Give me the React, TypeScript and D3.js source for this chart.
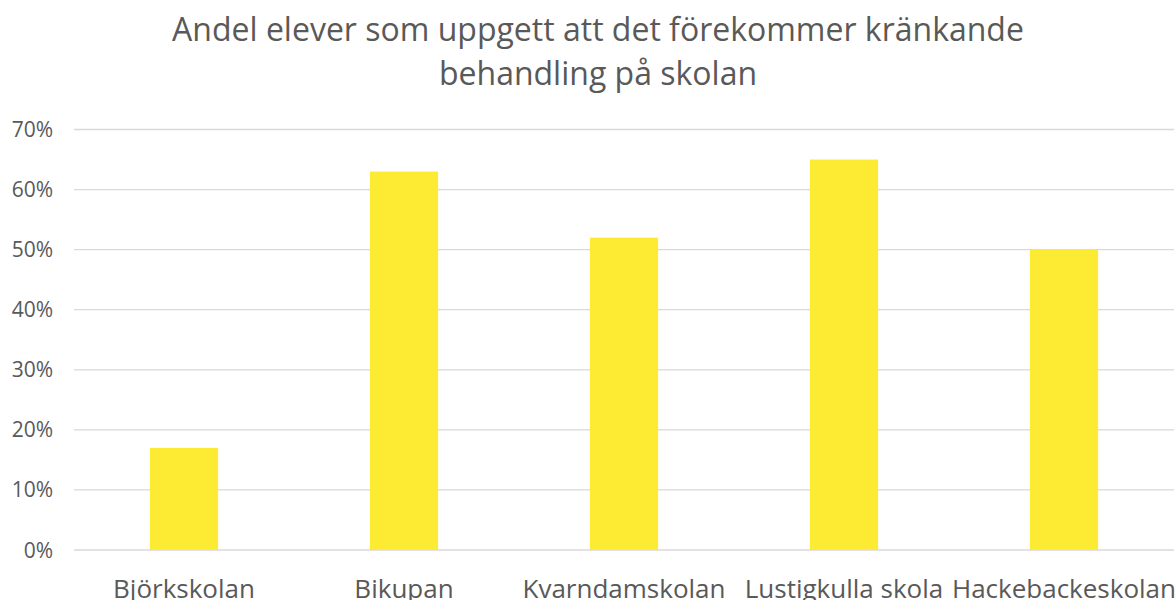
import React from 'react';
import * as d3 from 'd3';

const schools: string[] = ['Björkskolan', 'Bikupan', 'Kvarndamskolan', 'Lustigkulla skola', 'Hackebackeskolan'];
const shares: number[] = [0.17, 0.63, 0.52, 0.65, 0.5];
const yTicks: number[] = [0, 0.1, 0.2, 0.3, 0.4, 0.5, 0.6, 0.7];
const titleLines: string[] = ['Andel elever som uppgett att det förekommer kränkande', 'behandling på skolan'];

const W = 1176;
const H = 600;
const font = "'Open Sans', sans-serif";
const grey = '#595959';

const App = () => {
  const x = d3.scaleBand<string>().domain(schools).range([74, 1174]).paddingInner(0.69).paddingOuter(0.345);
  const y = d3.scaleLinear().domain([0, 0.7]).range([550, 129.5]);
  const fmt = d3.format('.0%');

  return (
    <svg width={W} height={H} style={{ position: 'absolute', left: 0, top: 0, background: '#fff' }}>
      {titleLines.map((t, i) => (
        <text key={t} x={598} y={41 + i * 44} textAnchor="middle" fontFamily={font} fontSize={32} fill={grey}>
          {t}
        </text>
      ))}
      {yTicks.map(t => (
        <g key={t}>
          <line x1={74} x2={1174} y1={y(t)} y2={y(t)} stroke="#d9d9d9" strokeWidth={1.3} />
          <text x={53} y={y(t)} dy="0.36em" textAnchor="end" fontFamily={font} fontSize={21} fill={grey}>
            {fmt(t)}
          </text>
        </g>
      ))}
      {schools.map((s, i) => (
        <rect key={s} x={x(s)} y={y(shares[i])} width={x.bandwidth()} height={y(0) - y(shares[i])} fill="#fdeb33" />
      ))}
      {schools.map(s => (
        <text key={s} x={(x(s) ?? 0) + x.bandwidth() / 2} y={598} textAnchor="middle" fontFamily={font} fontSize={26} fill={grey}>
          {s}
        </text>
      ))}
    </svg>
  );
};

export default App;
